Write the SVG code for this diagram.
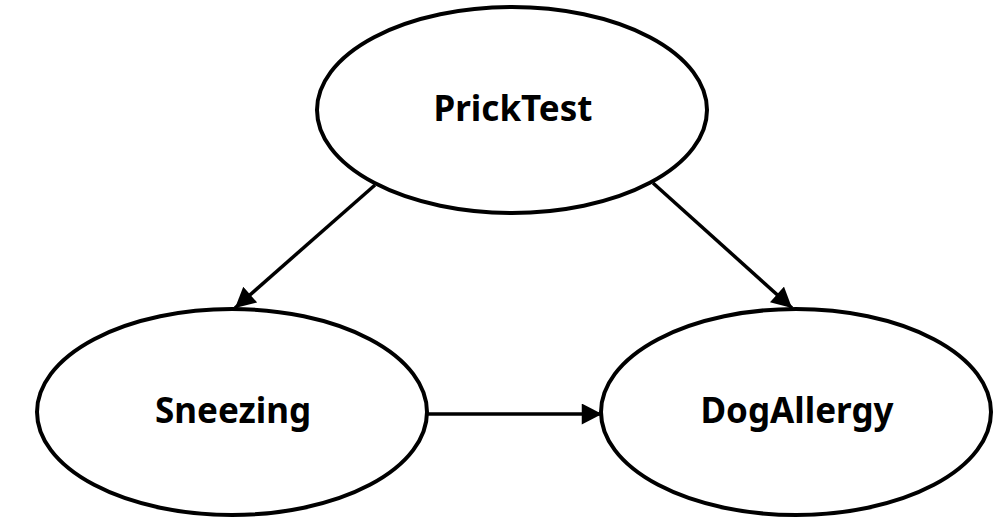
<svg xmlns="http://www.w3.org/2000/svg" width="1003" height="522" viewBox="0 0 1003 522">
<style>
.node ellipse{fill:#fff;stroke:#000;stroke-width:4}
.node text{font-family:"Noto Sans","Open Sans",sans-serif;font-weight:bold;font-size:35px;text-anchor:middle;fill:#000}
.edge{stroke:#000;stroke-width:3.5;fill:none;marker-end:url(#arr)}
</style>
<defs>
<marker id="arr" markerWidth="6" markerHeight="6" refX="5.4" refY="2.8" orient="auto" markerUnits="strokeWidth" viewBox="0 0 5.4 5.6">
<path d="M0,0 L5.4,2.8 L0,5.6 Z" fill="#000"/>
</marker>
</defs>
<rect width="1003" height="522" fill="#fff"/>
<g id="connectors">
<line class="edge" x1="375" y1="185" x2="235" y2="308"/>
<line class="edge" x1="653" y1="183" x2="792" y2="308"/>
<line class="edge" x1="428" y1="414" x2="602" y2="414"/>
</g>
<g id="PrickTest" class="node">
<ellipse cx="512" cy="110" rx="195" ry="103"/>
<text x="513" y="121">PrickTest</text>
</g>
<g id="Sneezing" class="node">
<ellipse cx="232" cy="412" rx="195" ry="103"/>
<text x="233" y="423">Sneezing</text>
</g>
<g id="DogAllergy" class="node">
<ellipse cx="796" cy="412" rx="195" ry="103"/>
<text x="797" y="423">DogAllergy</text>
</g>
</svg>
